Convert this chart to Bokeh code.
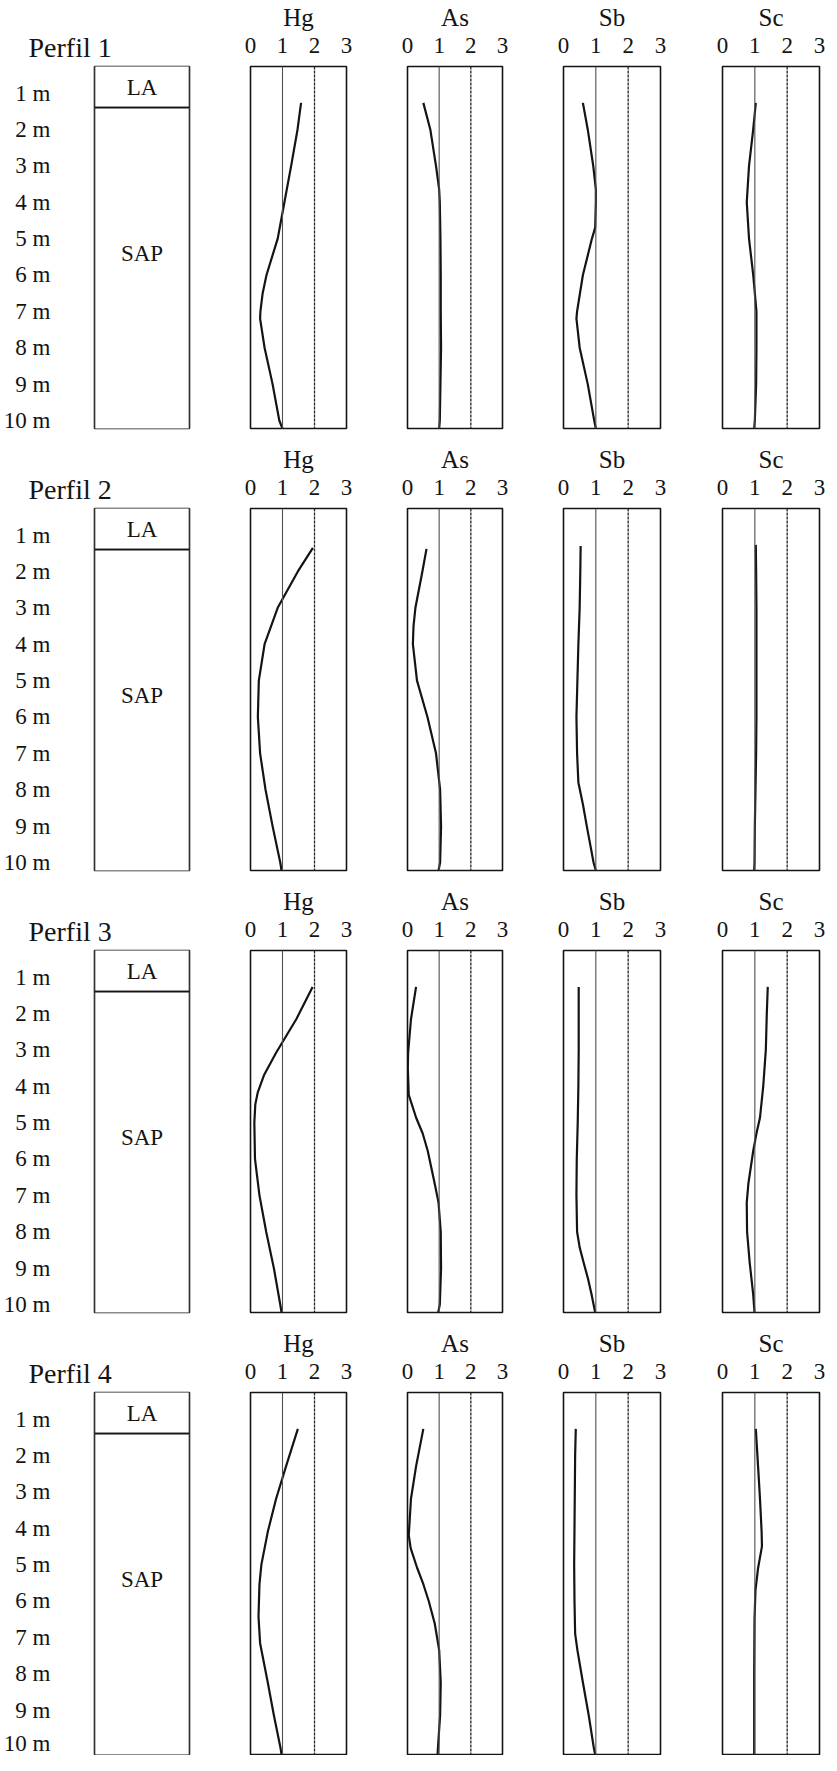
from bokeh.plotting import figure
from bokeh.layouts import column, row
from bokeh.models import Range1d, FixedTicker, Span
from bokeh.embed import file_html
from bokeh.resources import INLINE
from bokeh.core.properties import value

# ---------------- data ----------------
PROFILES = ["Perfil 1", "Perfil 2", "Perfil 3", "Perfil 4"]
ELEMENTS = ["Hg", "As", "Sb", "Sc"]
X_TICKS = [0, 1, 2, 3]
DEPTH_TICKS = [1, 2, 3, 4, 5, 6, 7, 8, 9, 10]
DEPTH_LABELS = ["1 m", "2 m", "3 m", "4 m", "5 m", "6 m", "7 m", "8 m", "9 m", "10 m"]
DEPTH_MIN, DEPTH_MAX = 0.27, 10.22
LAYER_NAMES = ["LA", "SAP"]
LAYER_TOP = [0.0, 1.4]
LAYER_BOTTOM = [1.4, 10.6]

# Perfil 1
HG1_D = [1.27, 2, 3, 4, 5, 6, 6.5, 7, 7.2, 8, 9, 10, 10.22]
HG1_V = [1.58, 1.47, 1.27, 1.06, 0.85, 0.5, 0.38, 0.31, 0.3, 0.44, 0.69, 0.9, 1.0]
AS1_D = [1.27, 2, 3, 3.65, 4, 5, 6, 7, 8, 9, 10, 10.22]
AS1_V = [0.5, 0.72, 0.9, 1.0, 1.02, 1.04, 1.05, 1.05, 1.06, 1.04, 1.02, 1.0]
SB1_D = [1.27, 2, 3, 3.65, 4, 4.7, 5, 6, 7, 7.2, 8, 9, 10, 10.22]
SB1_V = [0.6, 0.75, 0.92, 1.0, 1.0, 0.98, 0.88, 0.6, 0.42, 0.4, 0.5, 0.75, 0.95, 1.0]
SC1_D = [1.27, 2, 3, 4, 5, 6, 7, 8, 9, 10, 10.22]
SC1_V = [1.03, 0.95, 0.82, 0.75, 0.82, 0.95, 1.05, 1.05, 1.04, 1.0, 0.98]

# Perfil 2
HG2_D = [1.35, 2, 3, 4, 5, 6, 7, 8, 9, 10, 10.22]
HG2_V = [1.95, 1.48, 0.85, 0.44, 0.26, 0.23, 0.3, 0.47, 0.69, 0.93, 0.97]
AS2_D = [1.38, 2, 3, 3.5, 4, 5, 6, 7, 8, 9, 10, 10.22]
AS2_V = [0.6, 0.47, 0.25, 0.19, 0.17, 0.3, 0.63, 0.9, 1.03, 1.06, 1.03, 0.98]
SB2_D = [1.3, 2, 3, 4, 5, 6, 7, 7.8, 8.4, 9, 10, 10.22]
SB2_V = [0.53, 0.52, 0.5, 0.46, 0.43, 0.4, 0.42, 0.46, 0.6, 0.72, 0.93, 1.0]
SC2_D = [1.27, 2, 3, 4, 5, 6, 7, 8, 9, 10, 10.22]
SC2_V = [1.03, 1.04, 1.05, 1.05, 1.05, 1.05, 1.04, 1.02, 1.0, 0.99, 0.98]

# Perfil 3
HG3_D = [1.27, 2.16, 3.08, 3.7, 4.16, 4.5, 5, 6, 7, 8, 9, 10, 10.22]
HG3_V = [1.94, 1.43, 0.8, 0.42, 0.23, 0.15, 0.12, 0.14, 0.28, 0.49, 0.73, 0.93, 0.97]
AS3_D = [1.27, 2.16, 3.08, 3.5, 4.24, 4.86, 5.3, 5.78, 6.68, 7.2, 8, 9, 10, 10.22]
AS3_V = [0.27, 0.11, 0.02, 0.01, 0.04, 0.27, 0.48, 0.64, 0.86, 0.98, 1.05, 1.06, 1.02, 0.97]
SB3_D = [1.27, 2, 3, 4, 5, 6, 7, 8, 8.43, 8.84, 9.3, 9.73, 10.22]
SB3_V = [0.47, 0.47, 0.47, 0.46, 0.44, 0.41, 0.4, 0.42, 0.5, 0.62, 0.76, 0.87, 0.98]
SC3_D = [1.27, 2, 3, 4, 4.86, 5.3, 5.78, 6.68, 7.2, 8, 8.84, 9.73, 10.22]
SC3_V = [1.4, 1.37, 1.34, 1.26, 1.16, 1.05, 0.95, 0.8, 0.75, 0.76, 0.84, 0.95, 0.99]

# Perfil 4
HG4_D = [1.27, 2.3, 3.19, 4.1, 5.0, 5.54, 6.43, 7.16, 8.24, 9.14, 10.05, 10.22]
HG4_V = [1.48, 1.11, 0.8, 0.54, 0.34, 0.28, 0.25, 0.3, 0.54, 0.73, 0.94, 0.97]
AS4_D = [1.27, 2.3, 3.19, 4.19, 4.55, 5.08, 5.54, 6.0, 6.62, 7.35, 8.24, 9.14, 10.05, 10.22]
AS4_V = [0.5, 0.27, 0.11, 0.04, 0.1, 0.3, 0.5, 0.67, 0.86, 1.0, 1.05, 1.03, 0.96, 0.95]
SB4_D = [1.27, 2, 3, 4, 5, 6, 6.9, 7.35, 8.24, 9.14, 10.05, 10.22]
SB4_V = [0.38, 0.36, 0.35, 0.34, 0.33, 0.34, 0.36, 0.43, 0.6, 0.78, 0.94, 0.98]
SC4_D = [1.27, 2.3, 3.2, 4.1, 4.5, 5.1, 5.7, 6.5, 8, 9, 10, 10.22]
SC4_V = [1.03, 1.1, 1.16, 1.21, 1.22, 1.1, 1.02, 0.99, 0.98, 0.98, 0.98, 0.98]

CURVES = [
    [(HG1_D, HG1_V), (AS1_D, AS1_V), (SB1_D, SB1_V), (SC1_D, SC1_V)],
    [(HG2_D, HG2_V), (AS2_D, AS2_V), (SB2_D, SB2_V), (SC2_D, SC2_V)],
    [(HG3_D, HG3_V), (AS3_D, AS3_V), (SB3_D, SB3_V), (SC3_D, SC3_V)],
    [(HG4_D, HG4_V), (AS4_D, AS4_V), (SB4_D, SB4_V), (SC4_D, SC4_V)],
]

# ---------------- style / layout ----------------
FONT = "Liberation Serif"
INK = "#141414"
LAYER_LABEL_DEPTH = [0.84, 5.4]
TOP, FRAME_H, BOTTOM = 66, 362, 14
# (min_border_left, frame_width, min_border_right) for the element panels
PANEL_GEOM = [(31, 96, 30), (31, 95, 30), (31, 97, 31), (31, 97, 6)]


def litho_figure(name, bottom):
    p = figure(frame_width=95, frame_height=FRAME_H,
               x_range=Range1d(0, 1), y_range=Range1d(DEPTH_MAX, DEPTH_MIN),
               x_axis_location=None, y_axis_location="left",
               min_border_left=90, min_border_right=30,
               min_border_top=TOP, min_border_bottom=bottom,
               output_backend="svg", toolbar_location=None, title=name)
    p.title.text_font = FONT
    p.title.text_font_size = "28px"
    p.title.text_font_style = "normal"
    p.title.text_color = INK
    p.title.align = "left"
    p.title.offset = -66
    p.title.standoff = 8
    ax = p.yaxis[0]
    ax.ticker = FixedTicker(ticks=DEPTH_TICKS)
    ax.major_label_overrides = {t: lab for t, lab in zip(DEPTH_TICKS, DEPTH_LABELS)}
    ax.major_tick_line_color = None
    ax.minor_tick_line_color = None
    ax.axis_line_color = None
    ax.major_label_standoff = 38
    ax.major_label_text_font = FONT
    ax.major_label_text_font_size = "23px"
    ax.major_label_text_color = INK
    p.xgrid.visible = False
    p.ygrid.visible = False
    p.outline_line_color = INK
    p.outline_line_width = 1.6
    p.quad(left=0, right=1, top=LAYER_TOP, bottom=LAYER_BOTTOM,
           fill_color="white", line_color=INK, line_width=1.6)
    p.text(x=[0.5] * len(LAYER_NAMES), y=LAYER_LABEL_DEPTH, text=LAYER_NAMES,
           text_font=value(FONT), text_font_size="23px", text_color=INK,
           text_align="center", text_baseline="middle")
    return p


def element_figure(elem, depths, vals, geom, bottom):
    mbl, fw, mbr = geom
    p = figure(frame_width=fw, frame_height=FRAME_H,
               x_range=Range1d(X_TICKS[0], X_TICKS[-1]),
               y_range=Range1d(DEPTH_MAX, DEPTH_MIN),
               x_axis_location="above", y_axis_location=None,
               min_border_left=mbl, min_border_right=mbr,
               min_border_top=TOP, min_border_bottom=bottom,
               output_backend="svg", toolbar_location=None)
    ax = p.xaxis[0]
    ax.ticker = FixedTicker(ticks=X_TICKS)
    ax.axis_label = elem
    ax.axis_label_text_font = FONT
    ax.axis_label_text_font_size = "25px"
    ax.axis_label_text_font_style = "normal"
    ax.axis_label_text_color = INK
    ax.axis_label_standoff = 4
    ax.major_label_standoff = 8
    ax.major_label_text_font = FONT
    ax.major_label_text_font_size = "23px"
    ax.major_label_text_color = INK
    ax.major_tick_line_color = None
    ax.minor_tick_line_color = None
    ax.axis_line_color = None
    p.xgrid.visible = False
    p.ygrid.visible = False
    p.outline_line_color = INK
    p.outline_line_width = 1.6
    for t in X_TICKS[1:-1]:
        if t == 1:
            p.add_layout(Span(location=t, dimension="height", line_color="#505050",
                              line_width=1.1))
        else:
            p.add_layout(Span(location=t, dimension="height", line_color="#222222",
                              line_width=1.3, line_dash="3 1"))
    p.line(vals, depths, line_color=INK, line_width=2.2, line_join="round")
    return p


rows = []
for i, name in enumerate(PROFILES):
    bottom = BOTTOM if i < len(PROFILES) - 1 else 1
    figs = [litho_figure(name, bottom)]
    for j, elem in enumerate(ELEMENTS):
        d, v = CURVES[i][j]
        figs.append(element_figure(elem, d, v, PANEL_GEOM[j], bottom))
    rows.append(row(*figs))

layout = column(*rows)
open("out.html", "w").write(file_html(layout, INLINE))
